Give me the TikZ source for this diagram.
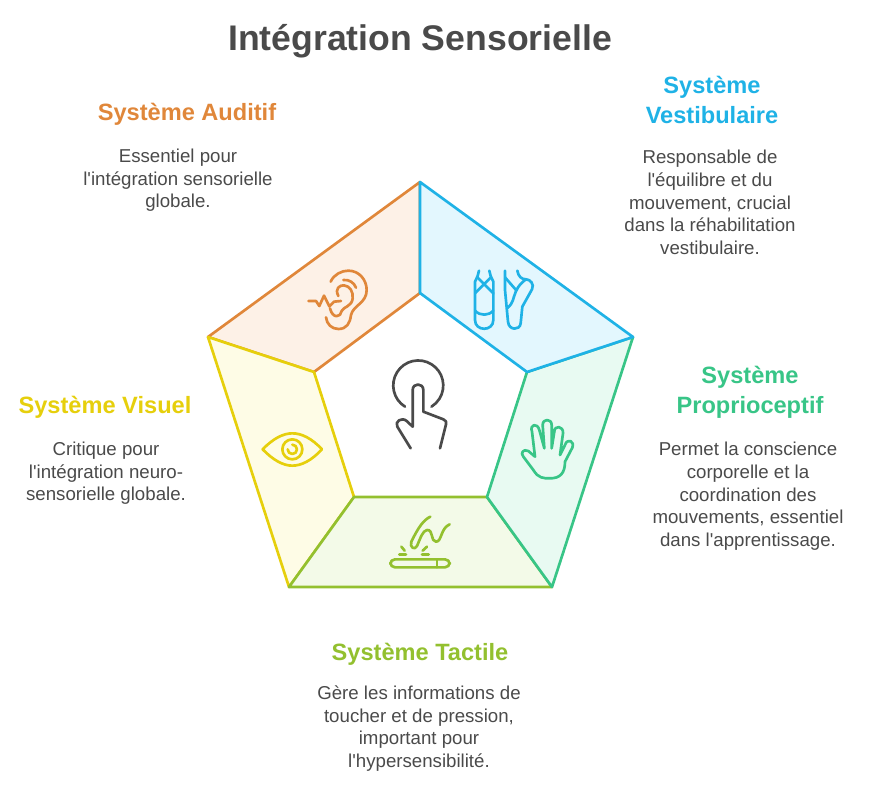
\documentclass[tikz,border=0pt]{standalone}
\usepackage{fontspec}
\setmainfont{Liberation Sans}
\definecolor{inktext}{HTML}{4A4A4A}
\definecolor{audline}{HTML}{E0873A}
\definecolor{audfill}{HTML}{FDF1E7}
\definecolor{vesline}{HTML}{1FB2E6}
\definecolor{vesfill}{HTML}{E3F7FE}
\definecolor{proline}{HTML}{38C587}
\definecolor{profill}{HTML}{E8FAF2}
\definecolor{tacline}{HTML}{93C02F}
\definecolor{tacfill}{HTML}{F3FAE8}
\definecolor{visline}{HTML}{E6CF0C}
\definecolor{visfill}{HTML}{FEFCE6}
\newcommand{\apos}{\textquotesingle}
\tikzset{
  heading/.style={inner sep=0pt,align=center,font=\fontsize{17.7}{22.5}\selectfont\bfseries},
  bodytext/.style={inner sep=0pt,align=center,text=inktext,font=\fontsize{14}{17}\selectfont},
  panel/.style={line width=2pt,line join=round},
  icon/.style={line width=2pt,line cap=round,line join=round}
}
\begin{document}
\begin{tikzpicture}[x=0.75pt,y=-0.75pt]
    \useasboundingbox (0,0) rectangle (870,788);
    % outer and inner corners
    \coordinate (Ot) at (420,182);
    \coordinate (Or) at (633,337);
    \coordinate (Obr) at (552,587);
    \coordinate (Obl) at (289,587);
    \coordinate (Ol) at (208,337);
    \coordinate (It) at (420,293);
    \coordinate (Ir) at (527,372);
    \coordinate (Ibr) at (487,497);
    \coordinate (Ibl) at (354,497);
    \coordinate (Il) at (314,372);
    % panels
    \draw[panel,audline,fill=audfill] (Ot) -- (Ol) -- (Il) -- (It) -- cycle;
    \draw[panel,visline,fill=visfill] (Ol) -- (Obl) -- (Ibl) -- (Il) -- cycle;
    \draw[panel,tacline,fill=tacfill] (Obl) -- (Obr) -- (Ibr) -- (Ibl) -- cycle;
    \draw[panel,proline,fill=profill] (Obr) -- (Or) -- (Ir) -- (Ibr) -- cycle;
    \draw[panel,vesline,fill=vesfill] (Or) -- (Ot) -- (It) -- (Ir) -- cycle;
    % texts
    \node[inner sep=0pt,text=inktext,font=\fontsize{26.7}{32}\selectfont\bfseries] (title) at (420,41) {Intégration Sensorielle};
    \node[heading,text=audline] (audhead) at (187,114) {Système Auditif};
    \node[bodytext] (audbody) at (178,180.5) {Essentiel pour\\l\apos intégration sensorielle\\globale.};
    \node[heading,text=vesline] (veshead) at (712,100) {Système\\Vestibulaire};
    \node[bodytext] (vesbody) at (710,202.5) {Responsable de\\l\apos équilibre et du\\mouvement, crucial\\dans la réhabilitation\\vestibulaire.};
    \node[heading,text=proline] (prohead) at (750,392.5) {Système\\Proprioceptif};
    \node[bodytext] (probody) at (748,496.5) {Permet la conscience\\corporelle et la\\coordination des\\mouvements, essentiel\\dans l\apos apprentissage.};
    \node[heading,text=tacline] (tachead) at (420,654) {Système Tactile};
    \node[bodytext] (tacbody) at (419,728.5) {Gère les informations de\\toucher et de pression,\\important pour\\l\apos hypersensibilité.};
    \node[heading,text=visline] (vishead) at (105,407) {Système Visuel};
    \node[bodytext] (visbody) at (106,473.5) {Critique pour\\l\apos intégration neuro-\\sensorielle globale.};
    % finger in the middle
    \begin{scope}[shift={(280,240)},scale=1/3,icon,inktext]
        \draw (375,500) arc[start angle=122,end angle=418,radius=75];
        \draw (392,625) -- (352,560) .. controls (343,545) and (365,530) .. (380,543) -- (398,560) -- (398,450)
            .. controls (398,428) and (430,428) .. (430,450) -- (430,515) -- (490,538)
            .. controls (498,541) and (500,546) .. (498,553) -- (480,625);
    \end{scope}
    % ear
    \begin{scope}[shift={(280,240)},scale=1/3,icon,audline]
        \draw (152,125) .. controls (162,103) and (185,92) .. (205,92) .. controls (238,92) and (260,120) .. (260,150)
            .. controls (260,190) and (220,195) .. (213,225) .. controls (210,250) and (200,267) .. (175,267)
            .. controls (155,267) and (140,252) .. (138,232);
        \draw (190,120) .. controls (208,118) and (222,128) .. (228,143);
        \draw (175,168) .. controls (163,145) and (180,135) .. (192,136) .. controls (210,138) and (220,155) .. (218,175)
            .. controls (216,200) and (190,200) .. (185,213) .. controls (183,232) and (158,238) .. (150,205);
        \draw (85,183) -- (108,183) -- (118,198) -- (132,167) -- (148,199) -- (162,185) -- (183,183);
    \end{scope}
    % ballet shoes
    \begin{scope}[shift={(280,240)},scale=1/3,icon,vesline]
        \draw (597,92) -- (593,108) -- (585,125) -- (585,240) .. controls (585,275) and (640,275) .. (640,240) -- (640,125) -- (632,108) -- (628,92);
        \draw (592,112) -- (640,160);
        \draw (633,112) -- (585,160);
        \draw (585,212) .. controls (600,228) and (625,228) .. (640,212);
        \draw (675,92) -- (675,150) -- (684,245) .. controls (686,272) and (720,272) .. (722,250) -- (727,200) -- (756,148)
            .. controls (764,132) and (750,118) .. (738,118) .. controls (725,118) and (715,110) .. (712,92);
        \draw (738,118) .. controls (715,135) and (708,150) .. (702,170) .. controls (697,190) and (690,198) .. (681,205);
        \draw (675,112) -- (708,150);
    \end{scope}
    % hand
    \begin{scope}[shift={(510,415)},scale=1/3,icon,proline]
        \draw (75,125) -- (55,108) .. controls (40,100) and (30,115) .. (40,125) -- (70,165)
            .. controls (85,190) and (100,190) .. (120,190) .. controls (150,190) and (165,175) .. (165,140)
            -- (187,98) .. controls (195,78) and (172,68) .. (165,90) -- (150,120) -- (159,55)
            .. controls (161,32) and (133,30) .. (133,50) -- (125,100) -- (125,30)
            .. controls (125,10) and (98,10) .. (98,30) -- (103,100) -- (88,45)
            .. controls (82,22) and (58,28) .. (66,50) -- (75,125);
    \end{scope}
    % touch screen
    \begin{scope}[shift={(382,510)},scale=1/3,icon,tacline]
        \draw[rounded corners=3.5pt] (25,148) rectangle (203,172);
        \draw (165,148) -- (165,172);
        \draw (145,20) .. controls (125,30) and (110,50) .. (88,95) .. controls (82,112) and (98,122) .. (105,108)
            .. controls (115,85) and (122,62) .. (135,60) .. controls (155,58) and (145,95) .. (162,95)
            .. controls (180,95) and (175,55) .. (203,43);
        \draw (58,110) -- (68,122);
        \draw (52,134) -- (72,134);
        \draw (135,110) -- (122,122);
        \draw (120,134) -- (140,134);
    \end{scope}
    % eye
    \begin{scope}[shift={(255,415)},scale=1/3,icon,visline]
        \draw (23,103) .. controls (55,70) and (85,55) .. (112,55) .. controls (140,55) and (170,70) .. (201,103)
            .. controls (170,136) and (140,152) .. (112,152) .. controls (85,152) and (55,136) .. (23,103) -- cycle;
        \draw (112,103) circle[radius=30];
        \draw (112,89) arc[start angle=-90,end angle=180,radius=14];
    \end{scope}
\end{tikzpicture}
\end{document}
